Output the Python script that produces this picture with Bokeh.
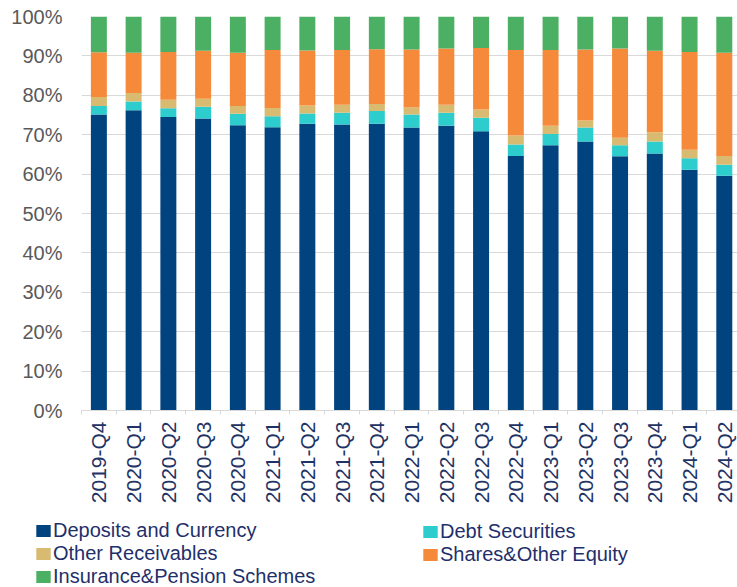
from bokeh.plotting import figure
from bokeh.models import Range1d, FixedTicker, Legend, LegendItem, ColumnDataSource
from bokeh.layouts import column
from bokeh.embed import file_html
from bokeh.resources import INLINE
import math

quarters = ["2019-Q4", "2020-Q1", "2020-Q2", "2020-Q3", "2020-Q4", "2021-Q1", "2021-Q2",
            "2021-Q3", "2021-Q4", "2022-Q1", "2022-Q2", "2022-Q3", "2022-Q4", "2023-Q1",
            "2023-Q2", "2023-Q3", "2023-Q4", "2024-Q1", "2024-Q2"]
deposits = [75.1, 76.2, 74.5, 74.1, 72.4, 71.9, 72.8, 72.6, 72.8, 71.8, 72.3, 70.9, 64.6, 67.3,
            68.3, 64.5, 65.2, 61.1, 59.6]
debt = [2.2, 2.2, 2.2, 3.0, 2.9, 2.8, 2.6, 3.0, 3.2, 3.3, 3.3, 3.4, 2.9, 2.9, 3.5, 2.8, 3.1, 2.9, 2.8]
other = [2.3, 2.2, 2.2, 2.0, 2.0, 2.1, 2.0, 2.0, 1.8, 1.8, 2.0, 2.1, 2.3, 2.1, 1.8, 1.9, 2.3, 2.2, 2.2]
shares = [11.3, 10.2, 12.1, 12.2, 13.5, 14.7, 14.0, 13.9, 13.9, 14.7, 14.3, 15.6, 21.7, 19.2,
          18.0, 22.7, 20.7, 24.8, 26.2]
insurance = [9.1, 9.2, 9.0, 8.7, 9.2, 8.5, 8.6, 8.5, 8.3, 8.4, 8.1, 8.0, 8.5, 8.5, 8.4, 8.1, 8.7,
             9.0, 9.2]
series_names = ["Deposits and Currency", "Debt Securities", "Other Receivables",
                "Shares&Other Equity", "Insurance&Pension Schemes"]
y_ticks = [0, 10, 20, 30, 40, 50, 60, 70, 80, 90, 100]

colors = ["#00437F", "#2DCDCD", "#D8BA70", "#F68A3B", "#4BAF64"]
keys = ["deposits", "debt", "other", "shares", "insurance"]

n = len(quarters)
xs = list(range(n))
source = ColumnDataSource(dict(x=xs, deposits=deposits, debt=debt, other=other,
                               shares=shares, insurance=insurance))

p = figure(width=737, height=519, output_backend="svg", toolbar_location=None,
           x_range=Range1d(-0.5, 18.38), y_range=Range1d(0, 100))
p.frame_align = False
p.min_border_left = 81
p.min_border_right = 0
p.min_border_top = 16
p.min_border_bottom = 109
p.outline_line_color = None
p.background_fill_color = "white"
p.border_fill_color = "white"

rs = p.vbar_stack(keys, x="x", width=0.46, color=colors, line_color=None, source=source)

# x axis
p.xaxis.ticker = FixedTicker(ticks=xs, minor_ticks=[i - 0.5 for i in range(n + 1)])
p.xaxis.major_label_overrides = {i: q for i, q in enumerate(quarters)}
p.xaxis.major_label_orientation = math.pi / 2
p.xaxis.major_label_text_font = "Liberation Sans"
p.xaxis.major_label_text_font_size = "21px"
p.xaxis.major_label_text_color = "#1F3465"
p.xaxis.major_label_standoff = 7
p.xaxis.major_tick_out = 0
p.xaxis.major_tick_in = 0
p.xaxis.minor_tick_out = 4
p.xaxis.minor_tick_in = 0
p.xaxis.minor_tick_line_color = "#D9D9D9"
p.xaxis.axis_line_color = "#D9D9D9"
p.xgrid.grid_line_color = None

# y axis
p.yaxis.ticker = FixedTicker(ticks=y_ticks)
p.yaxis.major_label_overrides = {t: f"{t}%" for t in y_ticks}
p.yaxis.major_label_text_font = "Liberation Sans"
p.yaxis.major_label_text_font_size = "20px"
p.yaxis.major_label_text_color = "#595959"
p.yaxis.major_label_standoff = 19
p.yaxis.major_tick_out = 0
p.yaxis.major_tick_in = 0
p.yaxis.minor_tick_line_color = None
p.yaxis.axis_line_color = None
p.ygrid.ticker = FixedTicker(ticks=y_ticks)
p.ygrid.grid_line_color = "#D9D9D9"
p.ygrid.grid_line_width = 1

# legend figure below the chart (its bars are kept out of view; only the legend shows)
lf = figure(width=737, height=68, output_backend="svg", toolbar_location=None,
            x_axis_location=None, y_axis_location=None,
            x_range=Range1d(1000, 1001), y_range=Range1d(1000, 1001))
lf.frame_align = False
lf.min_border_left = 0
lf.min_border_right = 0
lf.min_border_top = 0
lf.min_border_bottom = 0
lf.grid.grid_line_color = None
lf.outline_line_color = None
lf.border_fill_color = "white"
lf.background_fill_color = "white"

swatches = lf.vbar_stack(keys, x="x", width=0.46, color=colors, line_color=None, source=source)


def make_legend(idx, loc):
    items = [LegendItem(label=series_names[i], renderers=[swatches[i]]) for i in idx]
    lg = Legend(items=items, location=loc, orientation="vertical")
    lg.label_text_font = "Liberation Sans"
    lg.label_text_font_size = "20px"
    lg.label_text_color = "#1F2F6B"
    lg.glyph_width = 18
    lg.glyph_height = 15
    lg.label_standoff = 1
    lg.label_height = 22
    lg.spacing = 0
    lg.padding = 0
    lg.margin = 0
    lg.border_line_color = None
    lg.background_fill_alpha = 0
    return lg


lf.add_layout(make_legend([0, 2, 4], (34, -1)))
lf.add_layout(make_legend([1, 3], (421, 21)))

open("out.html", "w").write(file_html(column(p, lf, spacing=0), INLINE))
